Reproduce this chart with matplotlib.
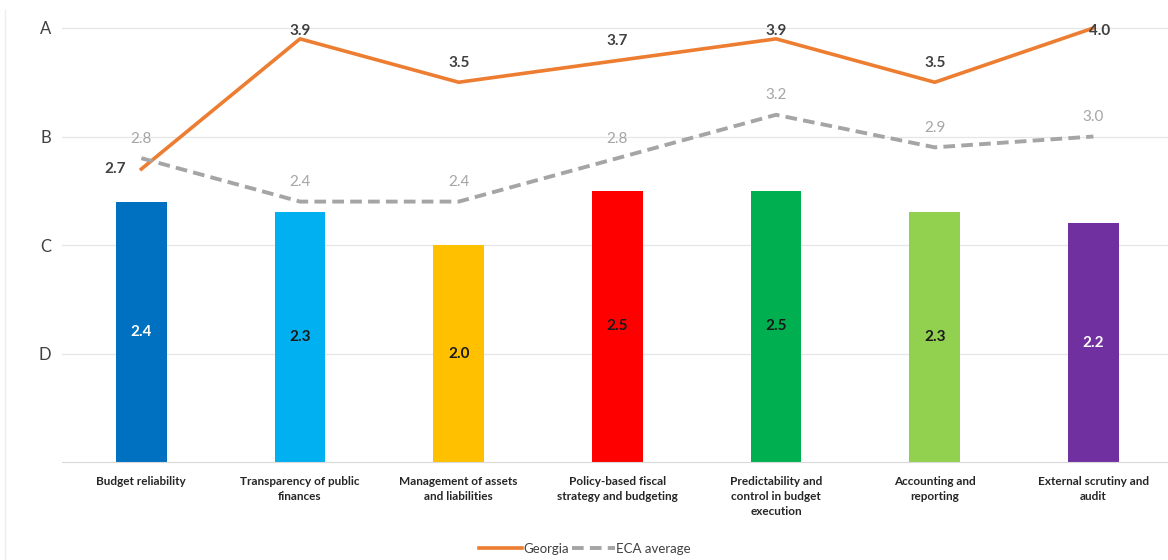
import matplotlib.pyplot as plt
from matplotlib.lines import Line2D

plt.rcParams['font.family'] = ['Lato', 'DejaVu Sans']

# Data
categories = ["Budget reliability", "Transparency of public\nfinances",
              "Management of assets\nand liabilities", "Policy-based fiscal\nstrategy and budgeting",
              "Predictability and\ncontrol in budget\nexecution", "Accounting and\nreporting",
              "External scrutiny and\naudit"]
bar_values = [2.4, 2.3, 2.0, 2.5, 2.5, 2.3, 2.2]
georgia = [2.7, 3.9, 3.5, 3.7, 3.9, 3.5, 4.0]
eca = [2.8, 2.4, 2.4, 2.8, 3.2, 2.9, 3.0]
grade_ticks = [1, 2, 3, 4]
grade_labels = ["D", "C", "B", "A"]

bar_colors = ["#0070C0", "#00B0F0", "#FFC000", "#FF0000", "#00B050", "#92D050", "#7030A0"]
label_colors = ["white", "#1a1a1a", "#1a1a1a", "#1a1a1a", "#1a1a1a", "#1a1a1a", "white"]

fig = plt.figure(figsize=(11.68, 5.6), dpi=100)
ax = fig.add_axes([62 / 1168, 1 - 462 / 560, 1 - 62 / 1168, (462 - 15) / 560])

x = list(range(len(categories)))
ax.bar(x, bar_values, width=0.32, color=bar_colors, zorder=2)
for xi, v, c in zip(x, bar_values, label_colors):
    ax.text(xi, v / 2, f"{v:.1f}", ha="center", va="center", color=c,
            fontsize=11, fontweight="bold", zorder=3)

ax.plot(x, georgia, color="#ED7D31", lw=2.6, zorder=4, label="Georgia")
ax.plot(x, eca, color="#A5A5A5", lw=2.8, ls=(0, (3, 1.6)), zorder=4, label="ECA average")

for xi, v in zip(x, eca):
    ax.annotate(f"{v:.1f}", (xi, v), xytext=(0, 14), textcoords="offset points",
                ha="center", va="center", color="#A5A5A5", fontsize=11, zorder=5)

for i, (xi, v) in enumerate(zip(x, georgia)):
    if i == 0:
        ax.annotate(f"{v:.1f}", (xi, v), xytext=(-19, 0), textcoords="offset points",
                    ha="center", va="center", color="#404040", fontsize=11,
                    fontweight="bold", zorder=5)
    else:
        y = min(v + 0.18, 3.97)
        ax.text(xi + (0.04 if v >= 4 else 0), y, f"{v:.1f}", ha="center", va="center",
                color="#404040", fontsize=11, fontweight="bold", zorder=5)

ax.set_xlim(-0.5, 6.47)
ax.set_ylim(0, (462 - 15) / 108.5)
ax.set_yticks(grade_ticks)
ax.set_yticklabels(grade_labels, fontsize=12, color="#404040")
ax.set_xticks(x)
ax.set_xticklabels(categories, fontsize=8.5, fontweight="bold", color="#262626", linespacing=1.45)
ax.tick_params(axis="both", length=0)
ax.tick_params(axis="x", pad=10)
ax.tick_params(axis="y", pad=8)
ax.yaxis.grid(True, color="#E6E6E6", lw=0.9, zorder=0)
for s in ["top", "right", "left"]:
    ax.spines[s].set_visible(False)
ax.spines["bottom"].set_color("#D9D9D9")

fig.legend(handles=ax.get_lines()[:2], loc="center", bbox_to_anchor=(585 / 1168, 1 - 549 / 560),
           ncol=2, frameon=False, fontsize=9.5, handlelength=3.2, handletextpad=0.1,
           columnspacing=0.3, labelcolor="#404040")

fig.add_artist(Line2D([5 / 1168, 5 / 1168], [0, 1 - 10 / 560], color="#EEEEEE", lw=1))

fig.savefig("out.png", dpi=100)
